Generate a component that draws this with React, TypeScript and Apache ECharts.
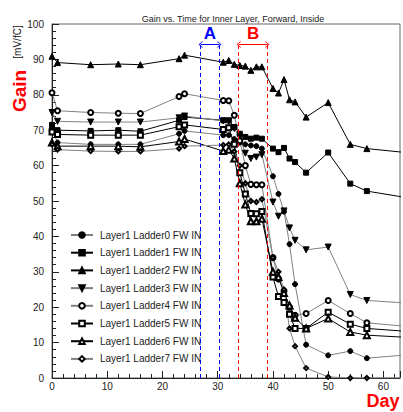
import React, { useEffect, useRef } from "react";
import * as echarts from "echarts";

const titleText = "Gain vs. Time for Inner Layer, Forward, Inside";
const seriesNames = [
  "Layer1 Ladder0 FW IN",
  "Layer1 Ladder1 FW IN",
  "Layer1 Ladder2 FW IN",
  "Layer1 Ladder3 FW IN",
  "Layer1 Ladder4 FW IN",
  "Layer1 Ladder5 FW IN",
  "Layer1 Ladder6 FW IN",
  "Layer1 Ladder7 FW IN",
];

const days = [0, 1, 7, 12, 16, 23, 24, 31, 32, 33, 34, 35, 36, 37, 38, 40, 41, 42, 43, 44, 46, 50, 54, 57, 64];

const ladder0 = [70.5, 66.5, 66.0, 66.0, 66.0, 69.0, 69.8, 68.6, 68.6, 67.5, 66.5, 66.0, 65.7, 65.5, 64.8, 57.0, 52.0, 47.0, 37.8, 26.5, 9.4, 6.4, 7.6, 5.6, 6.5];
const ladder1 = [71.5, 70.0, 69.8, 70.0, 69.7, 72.8, 73.7, 72.8, 72.8, 70.9, 69.0, 68.1, 67.6, 67.9, 67.6, 64.8, 63.8, 65.0, 62.0, 61.0, 58.0, 63.7, 54.9, 52.8, 51.0];
const ladder2 = [90.9, 89.1, 88.5, 88.7, 88.5, 90.2, 91.2, 89.2, 89.7, 88.6, 88.3, 88.1, 86.9, 87.9, 87.9, 81.8, 80.5, 84.3, 78.6, 78.0, 73.7, 77.8, 66.0, 64.8, 63.7];
const ladder3 = [75.0, 72.5, 72.3, 72.3, 72.3, 73.5, 74.0, 72.6, 72.5, 70.5, 68.0, 63.5, 62.0, 62.4, 63.1, 49.7, 45.7, 47.2, 42.4, 38.9, 36.2, 37.0, 23.6, 21.9, 21.2];
const ladder4 = [80.6, 75.5, 75.0, 74.8, 74.7, 79.5, 80.3, 78.4, 78.3, 74.2, 67.0, 60.0, 54.7, 54.6, 54.6, 34.0, 28.0, 24.5, 20.0, 17.7, 18.2, 21.9, 18.2, 15.6, 14.6];
const ladder5 = [69.5, 68.8, 68.6, 68.6, 68.6, 71.0, 71.5, 70.2, 70.7, 66.0, 58.0, 52.0, 46.5, 46.4, 47.0, 28.5, 23.0, 21.3, 18.0, 14.0, 14.0, 18.6, 15.2, 14.0, 13.2];
const ladder6 = [66.5, 65.5, 65.5, 65.5, 65.3, 66.8, 67.5, 64.1, 64.5, 62.0, 55.0, 49.0, 44.3, 44.3, 45.0, 30.0, 28.5, 24.0, 20.5, 17.0, 14.0, 16.8, 13.0, 12.1, 11.5];
const ladder7 = [66.0, 64.5, 64.1, 64.0, 64.0, 64.8, 65.5, 65.8, 66.0, 64.0, 60.0, 55.0, 50.0, 49.7, 50.5, 34.0, 30.0, 25.0, 14.0, 9.0, 2.8, 0.3, 0.0, 0.0, 0.0];

const regionA = [26.9, 30.3];
const regionB = [33.8, 39.0];
const markerTop = 94.5;

const FONT = "Liberation Sans, Arial, sans-serif";
const GRAY = "#808080";
const BLACK = "#000000";

const chevron = "path://M0,10 L5,0 L10,10 L8.6,10 L5,2.8 L1.4,10 Z";

export default function App() {
  const ref = useRef<HTMLDivElement>(null);

  useEffect(() => {
    if (!ref.current) return;
    const chart = echarts.init(ref.current, null, { renderer: "svg" });

    const allLadders = [ladder0, ladder1, ladder2, ladder3, ladder4, ladder5, ladder6, ladder7];
    const symbols = ["circle", "rect", "triangle", "triangle", "emptyCircle", "emptyRect", "emptyTriangle", "emptyDiamond"];
    const sizes = [5, 5, 6, 6, 5, 5, 6, 4];
    const rotations = [0, 0, 0, 180, 0, 0, 0, 0];
    const lineColors = [GRAY, BLACK, BLACK, GRAY, GRAY, BLACK, BLACK, GRAY];

    const markLineData: any[] = [
      [
        { coord: [regionA[0], 0], lineStyle: { color: "#0000ff", type: [4, 3], width: 1 } },
        { coord: [regionA[0], markerTop] },
      ],
      [
        { coord: [regionA[1], 0], lineStyle: { color: "#0000ff", type: [4, 3], width: 1 } },
        { coord: [regionA[1], markerTop] },
      ],
      [
        { coord: [regionB[0], 0], lineStyle: { color: "#ff0000", type: [4, 3], width: 1 } },
        { coord: [regionB[0], markerTop] },
      ],
      [
        { coord: [regionB[1], 0], lineStyle: { color: "#ff0000", type: [4, 3], width: 1 } },
        { coord: [regionB[1], markerTop] },
      ],
      [
        {
          coord: [regionA[0], markerTop - 0.3],
          symbol: chevron,
          lineStyle: { color: "#0000ff", type: "solid", width: 1 },
          label: {
            show: true,
            formatter: "A",
            position: "insideMiddleTop",
            color: "#0000ff",
            fontSize: 17,
            fontWeight: "bold",
            fontFamily: FONT,
            distance: 3,
          },
        },
        { coord: [regionA[1], markerTop - 0.3], symbol: chevron },
      ],
      [
        {
          coord: [regionB[0], markerTop - 0.3],
          symbol: chevron,
          lineStyle: { color: "#ff0000", type: "solid", width: 1 },
          label: {
            show: true,
            formatter: "B",
            position: "insideMiddleTop",
            color: "#ff0000",
            fontSize: 17,
            fontWeight: "bold",
            fontFamily: FONT,
            distance: 3,
          },
        },
        { coord: [regionB[1], markerTop - 0.3], symbol: chevron },
      ],
    ];

    const series: any[] = allLadders.map((vals, i) => ({
      name: seriesNames[i],
      type: "line",
      data: days.map((d, k) => [d, vals[k]]),
      symbol: symbols[i],
      symbolSize: sizes[i],
      symbolRotate: rotations[i],
      showAllSymbol: true,
      clip: true,
      z: 3,
      lineStyle: { color: lineColors[i], width: 1 },
      itemStyle: { color: BLACK, borderColor: BLACK, borderWidth: 1 },
      emphasis: { disabled: true },
      ...(i === 2
        ? {
            markLine: {
              silent: true,
              symbol: "none",
              symbolSize: [7, 4],
              animation: false,
              label: { show: false },
              emphasis: { disabled: true },
              data: markLineData,
            },
          }
        : {}),
    }));

    chart.setOption({
      animation: false,
      backgroundColor: "#ffffff",
      textStyle: { fontFamily: FONT },
      title: {
        text: titleText,
        left: 228,
        textAlign: "center",
        top: 9,
        textStyle: { fontSize: 9, fontWeight: "normal", color: "#222", fontFamily: FONT },
      },
      grid: {
        left: 52,
        right: 0,
        top: 24,
        bottom: 34,
        show: true,
        borderColor: "#666",
        borderWidth: 1,
        backgroundColor: "transparent",
      },
      legend: {
        orient: "vertical",
        left: 65,
        top: 225,
        itemWidth: 22,
        itemHeight: 7,
        itemGap: 7.7,
        selectedMode: false,
        textStyle: { fontSize: 10, color: "#222", fontFamily: FONT, padding: [0, 0, 0, 2], lineHeight: 9 },
        data: seriesNames,
      },
      xAxis: {
        type: "value",
        min: 0,
        max: 63,
        interval: 10,
        axisLine: { show: true, lineStyle: { color: "#222", width: 1 } },
        axisTick: { show: true, inside: true, length: 7, lineStyle: { color: "#222" } },
        minorTick: { show: true, splitNumber: 5, length: 4, lineStyle: { color: "#222" } },
        splitLine: { show: false },
        axisLabel: {
          color: "#222",
          fontSize: 10,
          fontFamily: FONT,
          margin: 3,
          formatter: (v: number) => (v % 10 === 0 ? String(v) : ""),
        },
      },
      yAxis: {
        type: "value",
        min: 0,
        max: 100,
        interval: 10,
        axisLine: { show: true, lineStyle: { color: "#222", width: 1 } },
        axisTick: { show: true, inside: true, length: 7, lineStyle: { color: "#222" } },
        minorTick: { show: true, splitNumber: 5, length: 4, lineStyle: { color: "#222" } },
        splitLine: { show: false },
        axisLabel: { color: "#222", fontSize: 10, fontFamily: FONT, margin: 8 },
      },
      graphic: [
        {
          type: "text",
          x: 19,
          y: 91,
          rotation: Math.PI / 2,
          style: {
            text: "Gain",
            fill: "#ff0000",
            font: `bold 19px ${FONT}`,
            textAlign: "center",
            textVerticalAlign: "middle",
          },
        },
        {
          type: "text",
          x: 17,
          y: 42,
          rotation: Math.PI / 2,
          style: {
            text: "[mV/fC]",
            fill: "#111",
            font: `10px ${FONT}`,
            textAlign: "center",
            textVerticalAlign: "middle",
          },
        },
        {
          type: "text",
          x: 383,
          y: 401,
          style: {
            text: "Day",
            fill: "#ff0000",
            font: `bold 18px ${FONT}`,
            textAlign: "center",
            textVerticalAlign: "middle",
          },
        },
      ],
      series,
    });

    return () => chart.dispose();
  }, []);

  return (
    <div
      ref={ref}
      style={{ position: "fixed", left: 0, top: 0, width: 403, height: 412, background: "#fff" }}
    />
  );
}
